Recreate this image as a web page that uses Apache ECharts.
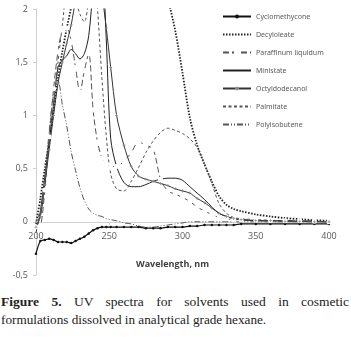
<!DOCTYPE html>
<html>
<head>
<meta charset="utf-8">
<script src="https://cdn.jsdelivr.net/npm/echarts@6/dist/echarts.min.js"></script>
<style>
  body { margin: 0; background: #fff; }
  #wrap { position: relative; width: 351px; height: 337px; overflow: hidden; }
  #chart { width: 351px; height: 285px; }
  .cap { position: absolute; left: 1px; width: 348px; font-family: 'Liberation Serif', serif; font-size: 13.5px; color: #222; white-space: nowrap; }
  .cap.l1 { top: 294px; text-align: justify; text-align-last: justify; white-space: normal; }
  .cap.l2 { top: 312px; font-size: 13.2px; }
</style>
</head>
<body>
<div id="wrap">
  <div id="chart"></div>
  <div class="cap l1"><b>Figure 5.</b> UV spectra for solvents used in cosmetic</div>
  <div class="cap l2">formulations dissolved in analytical grade hexane.</div>
</div>
<script>
// wavelength, nm
var wavelengths = [200, 203, 206, 209, 212, 215, 218, 221, 224, 227, 230, 233, 236, 239, 242, 245, 248, 251, 255, 260,
  265, 270, 275, 280, 285, 290, 295, 300, 305, 310, 315, 320, 325, 330, 335, 340, 350, 360, 370, 380, 390, 400]

var cyclomethycone = [-0.30, -0.18, -0.17, -0.16, -0.17, -0.19, -0.19, -0.19, -0.20, -0.18, -0.16, -0.14, -0.11, -0.08, -0.06, -0.05, -0.05, -0.05, -0.05, -0.05,
  -0.05, -0.05, -0.06, -0.06, -0.06, -0.05, -0.05, -0.05, -0.04, -0.04, -0.03, -0.03, -0.03, -0.03, -0.03, -0.02, -0.02, -0.02, -0.02, -0.02, -0.02, -0.02]
var decyloleate = [-0.02, 0.22, 0.5, 0.76, 1.05, 1.35, 1.6, 1.82, 2.02, 2.3, 2.6, 2.8, 2.9, 3.0, 3.0, 3.0, 3.0, 3.0, 3.0, 3.0,
  3.0, 3.0, 2.9, 2.7, 2.4, 2.1, 1.8, 1.4, 0.98, 0.72, 0.54, 0.38, 0.24, 0.16, 0.12, 0.1, 0.07, 0.05, 0.035, 0.025, 0.015, 0.01]
var paraffinum = [-0.05, -0.04, 0.3, 0.8, 1.25, 1.6, 1.8, 1.82, 1.7, 1.45, 1.22, 1.42, 1.58, 1.05, 0.75, 0.6, 0.54, 0.52, 0.52, 0.57,
  0.65, 0.75, 0.72, 0.68, 0.4, 0.29, 0.26, 0.23, 0.19, 0.14, 0.1, 0.07, 0.04, 0.03, 0.02, 0.02, 0.015, 0.01, 0.01, 0.01, 0.005, 0.0]
var ministate = [-0.1, 0.1, 0.42, 0.75, 1.1, 1.45, 1.52, 1.56, 1.62, 1.58, 1.53, 1.58, 1.75, 2.2, 2.6, 2.5, 1.7, 0.78, 0.52, 0.37,
  0.33, 0.33, 0.35, 0.38, 0.4, 0.41, 0.41, 0.39, 0.33, 0.27, 0.21, 0.14, 0.08, 0.05, 0.03, 0.02, 0.01, 0.01, 0.01, 0.005, 0.005, 0.0]
var octyldodecanol = [-0.05, 0.05, 0.35, 0.68, 1.0, 1.3, 1.5, 1.68, 1.85, 2.1, 2.5, 2.8, 2.9, 2.8, 2.5, 2.15, 1.82, 1.45, 1.0, 0.72,
  0.52, 0.43, 0.4, 0.38, 0.36, 0.34, 0.31, 0.29, 0.27, 0.22, 0.18, 0.13, 0.08, 0.05, 0.03, 0.02, 0.01, 0.01, 0.005, 0.005, 0.0, 0.0]
var palmitate = [0.0, 0.1, 0.4, 0.75, 1.1, 1.5, 1.85, 2.2, 2.3, 2.1, 1.95, 1.88, 2.1, 2.5, 2.0, 1.35, 0.8, 0.45, 0.31, 0.29,
  0.38, 0.51, 0.65, 0.76, 0.84, 0.88, 0.86, 0.83, 0.78, 0.7, 0.55, 0.36, 0.17, 0.08, 0.04, 0.03, 0.02, 0.015, 0.01, 0.01, 0.005, 0.0]
var polyisobutene = [-0.05, 0.05, 0.4, 0.85, 1.2, 1.33, 1.1, 0.9, 0.66, 0.48, 0.32, 0.2, 0.12, 0.08, 0.06, 0.05, 0.03, 0.02, 0.01, -0.01,
  -0.02, -0.04, -0.05, -0.05, -0.04, -0.03, -0.02, -0.01, 0.0, 0.0, 0.0, 0.0, 0.0, 0.0, 0.0, 0.0, 0.0, 0.0, 0.0, 0.0, 0.0, 0.0]

var xTicks = [200, 250, 300, 350, 400]
var yTicks = [-0.5, 0, 0.5, 1, 1.5, 2]

function pairs (ys) {
  return wavelengths.map(function (x, i) { return [x, ys[i]] })
}

var plusPath = 'path://M3,0h2v3h3v2h-3v3h-2v-3h-3v-2h3z'
var noMark = { opacity: 0 }

// plot area: top 9, bottom 275 -> y=0 sits 53px above the bottom edge
var gridTop = 9
var gridBottom = 10
var plotH = 285 - gridTop - gridBottom
var zeroShift = plotH * (0 - yTicks[0]) / (yTicks[yTicks.length - 1] - yTicks[0])

var chart = echarts.init(document.getElementById('chart'))
chart.setOption({
  animation: false,
  backgroundColor: '#fff',
  grid: {
    left: 36,
    right: 22,
    top: gridTop,
    bottom: gridBottom,
    containLabel: false,
    outerBoundsMode: 'none'
  },
  legend: {
    orient: 'vertical',
    left: 220,
    top: 10,
    itemGap: 9,
    itemWidth: 28,
    itemHeight: 5,
    backgroundColor: '#fff',
    padding: [2, 2, 2, 2],
    textStyle: {
      fontFamily: 'Noto Sans',
      fontSize: 7,
      lineHeight: 9,
      color: '#595959'
    },
    data: [
      { name: 'Cyclomethycone' },
      { name: 'Decyloleate', itemStyle: noMark },
      { name: 'Paraffinum liquidum' },
      { name: 'Ministate', itemStyle: noMark },
      { name: 'Octyldodecanol' },
      { name: 'Palmitate', itemStyle: noMark },
      { name: 'Polyisobutene', itemStyle: noMark }
    ]
  },
  xAxis: {
    type: 'value',
    position: 'bottom',
    offset: -zeroShift,
    min: xTicks[0],
    max: xTicks[xTicks.length - 1],
    interval: 50,
    name: 'Wavelength, nm',
    nameLocation: 'middle',
    nameGap: 38,
    nameTextStyle: {
      fontFamily: 'Open Sans',
      fontSize: 9,
      fontWeight: 'bold',
      color: '#404040',
      padding: [0, 20, 0, 0]
    },
    axisLine: { onZero: false, lineStyle: { color: '#d0d0d0', width: 1 } },
    axisTick: { show: true, length: 3, lineStyle: { color: '#d0d0d0' } },
    axisLabel: {
      margin: 10,
      fontFamily: 'Open Sans',
      fontSize: 9,
      color: '#595959'
    },
    splitLine: { show: false }
  },
  yAxis: {
    type: 'value',
    min: yTicks[0],
    max: yTicks[yTicks.length - 1],
    interval: 0.5,
    name: 'Abs',
    nameLocation: 'middle',
    nameGap: 23,
    nameTextStyle: {
      fontFamily: 'Open Sans',
      fontSize: 9,
      fontWeight: 'bold',
      color: '#404040',
      padding: [0, 0, 10, 0]
    },
    axisLine: { show: true, lineStyle: { color: '#d0d0d0', width: 1 } },
    axisTick: { show: true, length: 3, lineStyle: { color: '#d0d0d0' } },
    axisLabel: {
      margin: 8,
      fontFamily: 'Open Sans',
      fontSize: 9,
      color: '#595959',
      formatter: function (v) { return String(v).replace('.', ',') }
    },
    splitLine: { show: false }
  },
  series: [{
    name: 'Cyclomethycone',
    type: 'line',
    data: pairs(cyclomethycone),
    smooth: 0.3,
    symbol: 'circle',
    symbolSize: 2.5,
    itemStyle: { color: '#111' },
    lineStyle: { color: '#111', width: 1.2 }
  }, {
    name: 'Decyloleate',
    type: 'line',
    data: pairs(decyloleate),
    smooth: 0.3,
    showSymbol: false,
    symbol: 'none',
    itemStyle: { color: '#222' },
    lineStyle: { color: '#222', width: 1.8, type: [1.5, 1.5] }
  }, {
    name: 'Paraffinum liquidum',
    type: 'line',
    data: pairs(paraffinum),
    smooth: 0.3,
    symbol: 'emptyCircle',
    symbolSize: 3,
    itemStyle: { color: '#fff', borderColor: '#777', borderWidth: 0.8 },
    lineStyle: { color: '#555', width: 1, type: [6, 3] }
  }, {
    name: 'Ministate',
    type: 'line',
    data: pairs(ministate),
    smooth: 0.3,
    showSymbol: false,
    symbol: 'none',
    itemStyle: { color: '#222' },
    lineStyle: { color: '#222', width: 1 }
  }, {
    name: 'Octyldodecanol',
    type: 'line',
    data: pairs(octyldodecanol),
    smooth: 0.3,
    symbol: plusPath,
    symbolSize: 3,
    itemStyle: { color: '#888' },
    lineStyle: { color: '#333', width: 1 }
  }, {
    name: 'Palmitate',
    type: 'line',
    data: pairs(palmitate),
    smooth: 0.3,
    showSymbol: false,
    symbol: 'none',
    itemStyle: { color: '#555' },
    lineStyle: { color: '#555', width: 1, type: [3, 2.5] }
  }, {
    name: 'Polyisobutene',
    type: 'line',
    data: pairs(polyisobutene),
    smooth: 0.3,
    showSymbol: false,
    symbol: 'none',
    itemStyle: { color: '#555' },
    lineStyle: { color: '#555', width: 1, type: [6, 2, 1, 2, 1, 2] }
  }]
})
</script>
</body>
</html>
